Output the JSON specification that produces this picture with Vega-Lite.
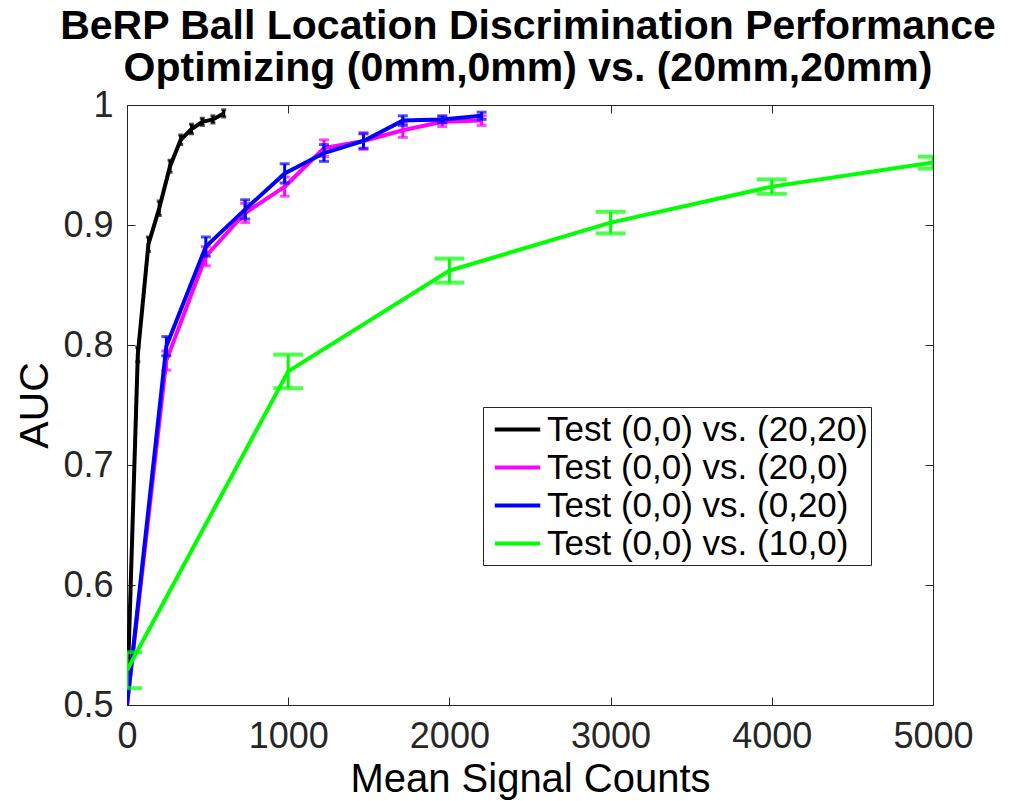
{
  "$schema": "https://vega.github.io/schema/vega-lite/v6.json",
  "width": 806,
  "height": 600,
  "autosize": {"type": "none"},
  "padding": {"left": 127, "top": 105, "right": 91, "bottom": 96},
  "background": "white",
  "title": {
    "text": ["BeRP Ball Location Discrimination Performance", "Optimizing (0mm,0mm) vs. (20mm,20mm)"],
    "font": "Liberation Sans",
    "fontSize": 41,
    "fontWeight": "bold",
    "color": "#000000",
    "lineHeight": 42,
    "anchor": "middle",
    "offset": -3,
    "dx": -2
  },
  "config": {
    "view": {"stroke": "#262626", "strokeWidth": 1},
    "axis": {"grid": false, "domain": false, "tickColor": "#262626", "tickWidth": 1, "labelColor": "#262626", "labelFont": "Liberation Sans", "titleFont": "Liberation Sans", "titleFontWeight": "normal", "titleColor": "#000000"},
    "legend": {
      "labelFont": "Liberation Sans",
      "labelFontSize": 35,
      "labelColor": "#000000",
      "symbolType": "M-1.3,0H1.3",
      "symbolSize": 1225,
      "symbolStrokeWidth": 4,
      "symbolOffset": 12,
      "labelOffset": 10,
      "rowPadding": 0,
      "padding": 3,
      "strokeColor": "#262626",
      "fillColor": "white",
      "labelLimit": 600
    }
  },
  "data": {
    "values": [
      {"s": "Test (0,0) vs. (20,20)", "x": 0, "y": 0.5},
      {"s": "Test (0,0) vs. (20,20)", "x": 67, "y": 0.792, "lo": 0.786, "hi": 0.798},
      {"s": "Test (0,0) vs. (20,20)", "x": 133, "y": 0.884, "lo": 0.878, "hi": 0.89},
      {"s": "Test (0,0) vs. (20,20)", "x": 200, "y": 0.914, "lo": 0.908, "hi": 0.92},
      {"s": "Test (0,0) vs. (20,20)", "x": 267, "y": 0.949, "lo": 0.944, "hi": 0.954},
      {"s": "Test (0,0) vs. (20,20)", "x": 333, "y": 0.971, "lo": 0.967, "hi": 0.975},
      {"s": "Test (0,0) vs. (20,20)", "x": 400, "y": 0.98, "lo": 0.976, "hi": 0.984},
      {"s": "Test (0,0) vs. (20,20)", "x": 467, "y": 0.986, "lo": 0.983, "hi": 0.989},
      {"s": "Test (0,0) vs. (20,20)", "x": 533, "y": 0.988, "lo": 0.985, "hi": 0.991},
      {"s": "Test (0,0) vs. (20,20)", "x": 600, "y": 0.993, "lo": 0.99, "hi": 0.996},
      {"s": "Test (0,0) vs. (20,0)", "x": 0, "y": 0.5},
      {"s": "Test (0,0) vs. (20,0)", "x": 244, "y": 0.787, "lo": 0.779, "hi": 0.795},
      {"s": "Test (0,0) vs. (20,0)", "x": 489, "y": 0.874, "lo": 0.866, "hi": 0.882},
      {"s": "Test (0,0) vs. (20,0)", "x": 733, "y": 0.91, "lo": 0.902, "hi": 0.918},
      {"s": "Test (0,0) vs. (20,0)", "x": 978, "y": 0.932, "lo": 0.924, "hi": 0.94},
      {"s": "Test (0,0) vs. (20,0)", "x": 1222, "y": 0.964, "lo": 0.957, "hi": 0.971},
      {"s": "Test (0,0) vs. (20,0)", "x": 1467, "y": 0.97, "lo": 0.963, "hi": 0.977},
      {"s": "Test (0,0) vs. (20,0)", "x": 1711, "y": 0.979, "lo": 0.973, "hi": 0.985},
      {"s": "Test (0,0) vs. (20,0)", "x": 1956, "y": 0.986, "lo": 0.982, "hi": 0.99},
      {"s": "Test (0,0) vs. (20,0)", "x": 2200, "y": 0.987, "lo": 0.983, "hi": 0.991},
      {"s": "Test (0,0) vs. (0,20)", "x": 0, "y": 0.5},
      {"s": "Test (0,0) vs. (0,20)", "x": 244, "y": 0.799, "lo": 0.791, "hi": 0.807},
      {"s": "Test (0,0) vs. (0,20)", "x": 489, "y": 0.882, "lo": 0.874, "hi": 0.89},
      {"s": "Test (0,0) vs. (0,20)", "x": 733, "y": 0.913, "lo": 0.905, "hi": 0.921},
      {"s": "Test (0,0) vs. (0,20)", "x": 978, "y": 0.943, "lo": 0.935, "hi": 0.951},
      {"s": "Test (0,0) vs. (0,20)", "x": 1222, "y": 0.96, "lo": 0.953, "hi": 0.967},
      {"s": "Test (0,0) vs. (0,20)", "x": 1467, "y": 0.97, "lo": 0.964, "hi": 0.976},
      {"s": "Test (0,0) vs. (0,20)", "x": 1711, "y": 0.987, "lo": 0.983, "hi": 0.991},
      {"s": "Test (0,0) vs. (0,20)", "x": 1956, "y": 0.988, "lo": 0.985, "hi": 0.991},
      {"s": "Test (0,0) vs. (0,20)", "x": 2200, "y": 0.991, "lo": 0.988, "hi": 0.994},
      {"s": "Test (0,0) vs. (10,0)", "x": 0, "y": 0.529, "lo": 0.514, "hi": 0.544},
      {"s": "Test (0,0) vs. (10,0)", "x": 1000, "y": 0.778, "lo": 0.764, "hi": 0.792},
      {"s": "Test (0,0) vs. (10,0)", "x": 2000, "y": 0.862, "lo": 0.852, "hi": 0.872},
      {"s": "Test (0,0) vs. (10,0)", "x": 3000, "y": 0.902, "lo": 0.893, "hi": 0.911},
      {"s": "Test (0,0) vs. (10,0)", "x": 4000, "y": 0.932, "lo": 0.926, "hi": 0.938},
      {"s": "Test (0,0) vs. (10,0)", "x": 5000, "y": 0.952, "lo": 0.947, "hi": 0.957}
    ]
  },
  "layer": [
    {
      "mark": {"type": "point", "opacity": 0},
      "encoding": {
        "x": {"field": "x", "type": "quantitative", "scale": {"domain": [0, 5000], "nice": false, "zero": false},
          "axis": {"orient": "bottom", "values": [0, 1000, 2000, 3000, 4000, 5000], "format": "d", "labelFontSize": 36, "tickSize": -8, "labelPadding": 22, "labelFlush": false, "title": "Mean Signal Counts", "titleFontSize": 40, "titlePadding": 5}},
        "y": {"field": "y", "type": "quantitative", "scale": {"domain": [0.5, 1], "nice": false, "zero": false},
          "axis": {"orient": "left", "values": [0.5, 0.6, 0.7, 0.8, 0.9, 1], "format": ".1~f", "labelFontSize": 36, "tickSize": -8, "labelPadding": 22, "labelFlush": false, "title": "AUC", "titleFontSize": 41, "titlePadding": 6}}
      }
    },
    {
      "mark": {"type": "point", "opacity": 0},
      "encoding": {
        "x": {"field": "x", "type": "quantitative", "axis": {"orient": "top", "values": [0, 1000, 2000, 3000, 4000, 5000], "labels": false, "tickSize": -8, "title": null}},
        "y": {"field": "y", "type": "quantitative", "axis": {"orient": "right", "values": [0.5, 0.6, 0.7, 0.8, 0.9, 1], "labels": false, "tickSize": -8, "title": null}}
      }
    },
    {
      "transform": [{"filter": "datum.s === 'Test (0,0) vs. (20,20)'"}],
      "layer": [
        {"mark": {"type": "line", "strokeWidth": 4, "clip": true},
          "encoding": {"x": {"field": "x", "type": "quantitative", "axis": null}, "y": {"field": "y", "type": "quantitative", "axis": null},
            "color": {"field": "s", "type": "nominal", "scale": {"domain": ["Test (0,0) vs. (20,20)", "Test (0,0) vs. (20,0)", "Test (0,0) vs. (0,20)", "Test (0,0) vs. (10,0)"], "range": ["#000000", "#ff00ff", "#0000ff", "#00ff00"]}, "legend": {"title": null, "orient": "none", "legendX": 356, "legendY": 302}}}},
        {"mark": {"type": "rule", "strokeWidth": 3, "color": "#000000", "clip": true},
          "encoding": {"x": {"field": "x", "type": "quantitative", "axis": null}, "y": {"field": "lo", "type": "quantitative", "axis": null}, "y2": {"field": "hi"}}},
        {"mark": {"type": "tick", "orient": "horizontal", "size": 5, "thickness": 3, "color": "#000000", "clip": true},
          "encoding": {"x": {"field": "x", "type": "quantitative", "axis": null}, "y": {"field": "lo", "type": "quantitative", "axis": null}}},
        {"mark": {"type": "tick", "orient": "horizontal", "size": 5, "thickness": 3, "color": "#000000", "clip": true},
          "encoding": {"x": {"field": "x", "type": "quantitative", "axis": null}, "y": {"field": "hi", "type": "quantitative", "axis": null}}}
      ]
    },
    {
      "transform": [{"filter": "datum.s === 'Test (0,0) vs. (20,0)'"}],
      "layer": [
        {"mark": {"type": "line", "strokeWidth": 4, "clip": true},
          "encoding": {"x": {"field": "x", "type": "quantitative", "axis": null}, "y": {"field": "y", "type": "quantitative", "axis": null},
            "color": {"field": "s", "type": "nominal", "scale": {"domain": ["Test (0,0) vs. (20,20)", "Test (0,0) vs. (20,0)", "Test (0,0) vs. (0,20)", "Test (0,0) vs. (10,0)"], "range": ["#000000", "#ff00ff", "#0000ff", "#00ff00"]}, "legend": {"title": null, "orient": "none", "legendX": 356, "legendY": 302}}}},
        {"mark": {"type": "rule", "strokeWidth": 3, "color": "#ff00ff", "clip": true},
          "encoding": {"x": {"field": "x", "type": "quantitative", "axis": null}, "y": {"field": "lo", "type": "quantitative", "axis": null}, "y2": {"field": "hi"}}},
        {"mark": {"type": "tick", "orient": "horizontal", "size": 10, "thickness": 3, "color": "#ff00ff", "clip": true},
          "encoding": {"x": {"field": "x", "type": "quantitative", "axis": null}, "y": {"field": "lo", "type": "quantitative", "axis": null}}},
        {"mark": {"type": "tick", "orient": "horizontal", "size": 10, "thickness": 3, "color": "#ff00ff", "clip": true},
          "encoding": {"x": {"field": "x", "type": "quantitative", "axis": null}, "y": {"field": "hi", "type": "quantitative", "axis": null}}}
      ]
    },
    {
      "transform": [{"filter": "datum.s === 'Test (0,0) vs. (0,20)'"}],
      "layer": [
        {"mark": {"type": "line", "strokeWidth": 4, "clip": true},
          "encoding": {"x": {"field": "x", "type": "quantitative", "axis": null}, "y": {"field": "y", "type": "quantitative", "axis": null},
            "color": {"field": "s", "type": "nominal", "scale": {"domain": ["Test (0,0) vs. (20,20)", "Test (0,0) vs. (20,0)", "Test (0,0) vs. (0,20)", "Test (0,0) vs. (10,0)"], "range": ["#000000", "#ff00ff", "#0000ff", "#00ff00"]}, "legend": {"title": null, "orient": "none", "legendX": 356, "legendY": 302}}}},
        {"mark": {"type": "rule", "strokeWidth": 3, "color": "#0000ff", "clip": true},
          "encoding": {"x": {"field": "x", "type": "quantitative", "axis": null}, "y": {"field": "lo", "type": "quantitative", "axis": null}, "y2": {"field": "hi"}}},
        {"mark": {"type": "tick", "orient": "horizontal", "size": 10, "thickness": 3, "color": "#0000ff", "clip": true},
          "encoding": {"x": {"field": "x", "type": "quantitative", "axis": null}, "y": {"field": "lo", "type": "quantitative", "axis": null}}},
        {"mark": {"type": "tick", "orient": "horizontal", "size": 10, "thickness": 3, "color": "#0000ff", "clip": true},
          "encoding": {"x": {"field": "x", "type": "quantitative", "axis": null}, "y": {"field": "hi", "type": "quantitative", "axis": null}}}
      ]
    },
    {
      "transform": [{"filter": "datum.s === 'Test (0,0) vs. (10,0)'"}],
      "layer": [
        {"mark": {"type": "line", "strokeWidth": 4, "clip": true},
          "encoding": {"x": {"field": "x", "type": "quantitative", "axis": null}, "y": {"field": "y", "type": "quantitative", "axis": null},
            "color": {"field": "s", "type": "nominal", "scale": {"domain": ["Test (0,0) vs. (20,20)", "Test (0,0) vs. (20,0)", "Test (0,0) vs. (0,20)", "Test (0,0) vs. (10,0)"], "range": ["#000000", "#ff00ff", "#0000ff", "#00ff00"]}, "legend": {"title": null, "orient": "none", "legendX": 356, "legendY": 302}}}},
        {"mark": {"type": "rule", "strokeWidth": 3, "color": "#00ff00", "clip": true},
          "encoding": {"x": {"field": "x", "type": "quantitative", "axis": null}, "y": {"field": "lo", "type": "quantitative", "axis": null}, "y2": {"field": "hi"}}},
        {"mark": {"type": "tick", "orient": "horizontal", "size": 30, "thickness": 4, "color": "#00ff00", "clip": true},
          "encoding": {"x": {"field": "x", "type": "quantitative", "axis": null}, "y": {"field": "lo", "type": "quantitative", "axis": null}}},
        {"mark": {"type": "tick", "orient": "horizontal", "size": 30, "thickness": 4, "color": "#00ff00", "clip": true},
          "encoding": {"x": {"field": "x", "type": "quantitative", "axis": null}, "y": {"field": "hi", "type": "quantitative", "axis": null}}}
      ]
    }
  ]
}
